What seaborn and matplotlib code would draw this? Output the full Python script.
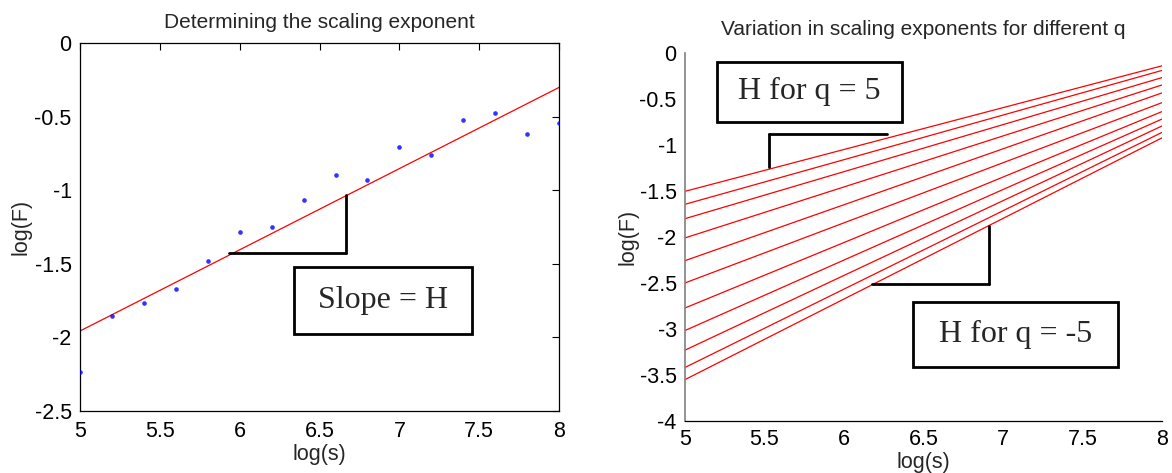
import numpy as np
import pandas as pd
import seaborn as sns
import matplotlib
matplotlib.use("Agg")
import matplotlib.pyplot as plt
from matplotlib.patches import Rectangle

# Fluctuation function F(s) for q = 2, sampled on a log scale
log_s = [5.0, 5.2, 5.4, 5.6, 5.8, 6.0, 6.2, 6.4, 6.6, 6.8, 7.0, 7.2, 7.4, 7.6, 7.8, 8.0]
log_F = [-2.233, -1.856, -1.768, -1.668, -1.480, -1.285, -1.249, -1.070,
         -0.895, -0.934, -0.707, -0.762, -0.521, -0.474, -0.619, -0.544]

# Fitted log F(s) lines for each moment order q, evaluated at both ends of the range
q_values = [5, 4, 3, 2, 1, 0, -1, -2, -3, -4, -5]
fit_range = [5.0, 8.0]
fit_start = [-1.505, -1.646, -1.802, -2.011, -2.258, -2.500, -2.772, -3.017, -3.230, -3.418, -3.550]
fit_end = [-0.142, -0.192, -0.270, -0.350, -0.436, -0.542, -0.639, -0.720, -0.795, -0.865, -0.924]

left_xticks = [5, 5.5, 6, 6.5, 7, 7.5, 8]
left_yticks = [0, -0.5, -1, -1.5, -2, -2.5]
right_yticks = [0, -0.5, -1, -1.5, -2, -2.5, -3, -3.5, -4]

sns.set_theme(style="white")
plt.rcParams["font.family"] = ["Liberation Sans", "DejaVu Sans"]

fig = plt.figure(figsize=(11.72, 4.73), dpi=100)
ax1 = fig.add_axes([0.0683, 0.1311, 0.4087, 0.778])
ax2 = fig.add_axes([0.5845, 0.1099, 0.4070, 0.7786])

tick_fs = 15.5
label_fs = 15.5
title_fs = 15
serif = ["Liberation Serif", "DejaVu Serif"]

# ---- left panel: single regression ----
sns.regplot(x=log_s, y=log_F, ax=ax1, ci=None, truncate=True,
            scatter_kws=dict(color="blue", s=11, linewidths=0, marker="o", zorder=3),
            line_kws=dict(color="red", lw=0.9, zorder=2))
ax1.set_xlim(5, 8)
ax1.set_ylim(-2.5, 0)
ax1.set_xticks(left_xticks)
ax1.set_xticklabels([f"{t:g}" for t in left_xticks])
ax1.set_yticks(left_yticks)
ax1.set_yticklabels([f"{t:g}" for t in left_yticks])
ax1.tick_params(axis="both", direction="in", top=True, right=True, length=5, width=0.8,
                labelsize=tick_fs, colors="black")
ax1.tick_params(axis="x", pad=7)
ax1.tick_params(axis="y", pad=6)
for sp in ax1.spines.values():
    sp.set_color("black")
    sp.set_linewidth(0.9)
ax1.set_title("Determining the scaling exponent", fontsize=title_fs, pad=11)
ax1.set_xlabel("log(s)", fontsize=label_fs, labelpad=2)
ax1.set_ylabel("log(F)", fontsize=label_fs, labelpad=2)

# slope triangle
ax1.plot([5.93, 6.666], [-1.428, -1.428], color="black", lw=2)
ax1.plot([6.666, 6.666], [-1.428, -1.036], color="black", lw=2)
ax1.add_patch(Rectangle((6.34, -1.975), 1.115, 0.455, fill=False,
                        edgecolor="black", lw=2, zorder=4))
ax1.text(6.897, -1.75, "Slope = H", ha="center", va="center",
         fontsize=23, family=serif)

# ---- right panel: one fitted line per q ----
rows = []
for q, a, b in zip(q_values, fit_start, fit_end):
    rows.append({"q": q, "log_s": fit_range[0], "log_F": a})
    rows.append({"q": q, "log_s": fit_range[1], "log_F": b})
lines_df = pd.DataFrame(rows)
sns.lineplot(data=lines_df, x="log_s", y="log_F", units="q", estimator=None,
             color="red", lw=0.9, ax=ax2, legend=False)
ax2.set_xlim(5, 8)
ax2.set_ylim(-4, 0)
ax2.set_xticks(left_xticks)
ax2.set_xticklabels([f"{t:g}" for t in left_xticks])
ax2.set_yticks(right_yticks)
ax2.set_yticklabels([f"{t:g}" for t in right_yticks])
ax2.tick_params(axis="both", direction="in", length=5, width=0.8, labelsize=tick_fs,
                colors="black")
ax2.tick_params(axis="x", pad=6)
ax2.tick_params(axis="y", pad=6)
ax2.spines["top"].set_visible(False)
ax2.spines["right"].set_visible(False)
ax2.spines["left"].set_color("#808080")
ax2.spines["left"].set_linewidth(1.2)
ax2.spines["bottom"].set_color("black")
ax2.spines["bottom"].set_linewidth(0.9)
ax2.set_title("Variation in scaling exponents for different q", fontsize=title_fs, pad=13)
ax2.set_xlabel("log(s)", fontsize=label_fs, labelpad=1)
ax2.set_ylabel("log(F)", fontsize=label_fs, labelpad=1)

# bracket and label for q = 5
ax2.plot([5.525, 5.525], [-1.241, -0.878], color="black", lw=2)
ax2.plot([5.525, 6.271], [-0.878, -0.878], color="black", lw=2)
ax2.add_patch(Rectangle((5.199, -0.751), 1.163, 0.650, fill=False,
                        edgecolor="black", lw=2, zorder=4))
ax2.text(5.78, -0.426, "H for q = 5", ha="center", va="center",
         fontsize=23, family=serif)

# bracket and label for q = -5
ax2.plot([6.178, 6.913], [-2.512, -2.512], color="black", lw=2)
ax2.plot([6.913, 6.913], [-2.512, -1.877], color="black", lw=2)
ax2.add_patch(Rectangle((6.431, -3.408), 1.292, 0.697, fill=False,
                        edgecolor="black", lw=2, zorder=4))
ax2.text(7.077, -3.06, "H for q = -5", ha="center", va="center",
         fontsize=23, family=serif)

fig.savefig("out.png", dpi=100, facecolor="white")
